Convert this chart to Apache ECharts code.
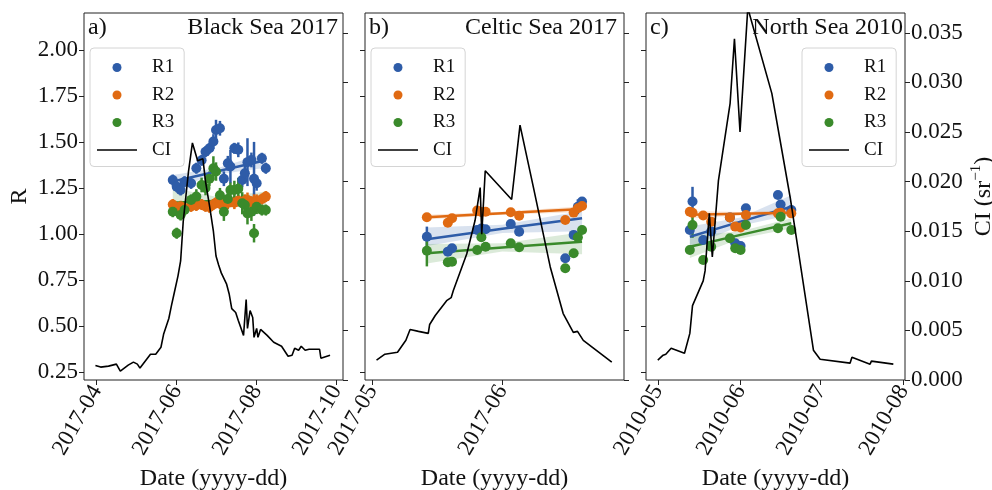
<!DOCTYPE html>
<html>
<head>
<meta charset="utf-8">
<script src="https://cdn.jsdelivr.net/npm/echarts@6/dist/echarts.min.js"></script>
<style>
html, body { margin: 0; padding: 0; background: #fff; }
#chart { width: 992px; height: 490px; }
</style>
</head>
<body>
<div id="chart"></div>
<script>
// ---------------- data ----------------
const seriesNames = ['R1', 'R2', 'R3'];
const panelTags = ['a)', 'b)', 'c)'];
const panelTitles = ['Black Sea 2017', 'Celtic Sea 2017', 'North Sea 2010'];

const rTicks = [0.25, 0.50, 0.75, 1.00, 1.25, 1.50, 1.75, 2.00];
const ciTicks = [0.000, 0.005, 0.010, 0.015, 0.020, 0.025, 0.030, 0.035];
const aMonthTicks = ['2017-04-01', '2017-06-01', '2017-08-01', '2017-10-01'];
const bMonthTicks = ['2017-05-01', '2017-06-01'];
const cMonthTicks = ['2010-05-01', '2010-06-01', '2010-07-01', '2010-08-01'];

// Black Sea 2017 — sampled ratios
const aDates = ['2017-05-29', '2017-06-01', '2017-06-04', '2017-06-07', '2017-06-12', '2017-06-16',
  '2017-06-20', '2017-06-23', '2017-06-26', '2017-06-29', '2017-07-01', '2017-07-04', '2017-07-07',
  '2017-07-10', '2017-07-12', '2017-07-15', '2017-07-18', '2017-07-21', '2017-07-23', '2017-07-25',
  '2017-07-28', '2017-07-30', '2017-08-01', '2017-08-05', '2017-08-08'];
const aR1 = [1.293, 1.257, 1.239, 1.284, 1.275, 1.357, 1.400, 1.447, 1.466, 1.502, 1.565, 1.574, 1.300,
  1.384, 1.366, 1.465, 1.457, 1.293, 1.330, 1.390, 1.402, 1.300, 1.275, 1.411, 1.357];
const aR1Err = [0.03, 0.03, 0.03, 0.03, 0.03, 0.03, 0.03, 0.03, 0.03, 0.04, 0.055, 0.04, 0.04,
  0.04, 0.09, 0.03, 0.04, 0.04, 0.04, 0.13, 0.04, 0.20, 0.04, 0.03, 0.03];
const aR2 = [1.160, 1.145, 1.150, 1.140, 1.150, 1.155, 1.160, 1.150, 1.145, 1.160, 1.170, 1.165, 1.150,
  1.170, 1.175, 1.170, 1.180, 1.175, 1.180, 1.185, 1.170, 1.175, 1.180, 1.190, 1.203];
const aR2Err = [0.03, 0.03, 0.03, 0.03, 0.03, 0.03, 0.03, 0.03, 0.03, 0.03, 0.03, 0.03, 0.03,
  0.035, 0.03, 0.035, 0.03, 0.035, 0.035, 0.04, 0.035, 0.04, 0.035, 0.03, 0.03];
const aR3 = [1.121, 1.004, 1.103, 1.130, 1.185, 1.203, 1.266, 1.250, 1.300, 1.357, 1.339, 1.210, 1.121,
  1.190, 1.239, 1.239, 1.245, 1.167, 1.157, 1.112, 1.121, 1.004, 1.148, 1.130, 1.130];
const aR3Err = [0.03, 0.03, 0.03, 0.03, 0.03, 0.04, 0.04, 0.04, 0.04, 0.065, 0.05, 0.04, 0.05,
  0.05, 0.04, 0.05, 0.06, 0.06, 0.05, 0.06, 0.05, 0.05, 0.04, 0.03, 0.03];
const aFitDates = ['2017-05-29', '2017-07-03', '2017-08-08'];
const aFitR1 = [1.285, 1.342, 1.400];
const aBandR1Lo = [1.250, 1.325, 1.360];
const aBandR1Hi = [1.320, 1.360, 1.440];
const aFitR2 = [1.150, 1.165, 1.180];
const aBandR2Lo = [1.135, 1.158, 1.165];
const aBandR2Hi = [1.165, 1.172, 1.195];
const aFitR3 = [1.170, 1.180, 1.190];
const aBandR3Lo = [1.100, 1.160, 1.150];
const aBandR3Hi = [1.250, 1.200, 1.230];
const aCIDates = ['2017-03-31', '2017-04-04', '2017-04-10', '2017-04-16', '2017-04-19', '2017-04-25',
  '2017-04-29', '2017-05-02', '2017-05-04', '2017-05-12', '2017-05-16', '2017-05-20', '2017-05-22',
  '2017-05-26', '2017-05-28', '2017-05-30', '2017-06-02', '2017-06-04', '2017-06-06', '2017-06-08',
  '2017-06-10', '2017-06-13', '2017-06-17', '2017-06-21', '2017-06-23', '2017-06-26', '2017-06-29',
  '2017-07-01', '2017-07-03', '2017-07-05', '2017-07-09', '2017-07-11', '2017-07-13', '2017-07-16',
  '2017-07-18', '2017-07-22', '2017-07-24', '2017-07-25', '2017-07-27', '2017-07-29', '2017-07-30',
  '2017-08-01', '2017-08-02', '2017-08-04', '2017-08-09', '2017-08-14', '2017-08-20', '2017-08-25',
  '2017-08-28', '2017-08-30', '2017-09-02', '2017-09-04', '2017-09-07', '2017-09-10', '2017-09-16',
  '2017-09-18', '2017-09-19', '2017-09-26'];
const aCI = [0.00146, 0.0013, 0.0014, 0.0016, 0.0009, 0.0015, 0.0018, 0.0016, 0.0012, 0.0026, 0.0026,
  0.0033, 0.0046, 0.0062, 0.0075, 0.0087, 0.0105, 0.0120, 0.0160, 0.0185, 0.0210, 0.0239, 0.0221,
  0.0223, 0.0200, 0.0176, 0.0150, 0.0125, 0.0116, 0.0108, 0.0097, 0.0087, 0.0072, 0.0068, 0.0060,
  0.0045, 0.0081, 0.0052, 0.0070, 0.0063, 0.0043, 0.0052, 0.0043, 0.0051, 0.0045, 0.0038, 0.0034,
  0.0024, 0.0025, 0.0032, 0.0030, 0.0034, 0.0030, 0.0031, 0.0031, 0.0031, 0.0022, 0.0025];

// Celtic Sea 2017
const bDates = ['2017-05-14', '2017-05-19', '2017-05-20', '2017-05-26', '2017-05-27', '2017-05-28',
  '2017-06-03', '2017-06-05', '2017-06-16', '2017-06-18', '2017-06-19', '2017-06-20'];
const bR1 = [0.985, 0.904, 0.922, 1.022, 1.030, 1.026, 1.054, 1.012, 0.868, 0.995, 1.148, 1.176];
const bR1Err = [0.055, 0.02, 0.02, 0.02, 0.02, 0.02, 0.02, 0.02, 0.02, 0.02, 0.04, 0.02];
const bR2 = [1.091, 1.061, 1.085, 1.127, 1.120, 1.121, 1.118, 1.099, 1.076, 1.116, 1.140, 1.152];
const bR2Err = [0.02, 0.02, 0.02, 0.02, 0.02, 0.02, 0.02, 0.02, 0.02, 0.02, 0.02, 0.02];
const bR3 = [0.909, 0.846, 0.849, 0.913, 0.982, 0.931, 0.949, 0.928, 0.814, 0.895, 0.982, 1.022];
const bR3Err = [0.085, 0.02, 0.02, 0.02, 0.02, 0.02, 0.02, 0.02, 0.02, 0.02, 0.02, 0.02];
const bFitDates = ['2017-05-14', '2017-06-01', '2017-06-20'];
const bFitR1 = [0.971, 1.028, 1.085];
const bBandR1Lo = [0.935, 1.005, 1.015];
const bBandR1Hi = [1.035, 1.050, 1.125];
const bFitR2 = [1.091, 1.113, 1.135];
const bBandR2Lo = [1.078, 1.105, 1.120];
const bBandR2Hi = [1.104, 1.121, 1.150];
const bFitR3 = [0.895, 0.927, 0.958];
const bBandR3Lo = [0.840, 0.905, 0.890];
const bBandR3Hi = [0.945, 0.950, 1.010];
const bCIDates = ['2017-05-02', '2017-05-04', '2017-05-07', '2017-05-09', '2017-05-10', '2017-05-12',
  '2017-05-14 08', '2017-05-14 16', '2017-05-16', '2017-05-18 17', '2017-05-19 19', '2017-05-20 07',
  '2017-05-23 12', '2017-05-25 12', '2017-05-26 17', '2017-05-27 02', '2017-05-27 22', '2017-06-03 05',
  '2017-06-05 05', '2017-06-08 10', '2017-06-12 10', '2017-06-15 12', '2017-06-17 22', '2017-06-18 22',
  '2017-06-20 07', '2017-06-27 02'];
const bCI = [0.0020, 0.0026, 0.0028, 0.0040, 0.0051, 0.0049, 0.0047, 0.0056, 0.0065, 0.0080, 0.0083,
  0.0090, 0.0127, 0.0161, 0.0194, 0.0147, 0.0211, 0.0182, 0.0257, 0.0194, 0.0114, 0.0067, 0.0048,
  0.0049, 0.0040, 0.0018];

// North Sea 2010
const cDates = ['2010-05-13', '2010-05-14', '2010-05-18', '2010-05-21', '2010-05-28', '2010-05-30',
  '2010-06-01', '2010-06-03', '2010-06-15', '2010-06-16', '2010-06-20'];
const cR1 = [1.022, 1.176, 0.967, 1.013, 1.090, 0.950, 0.935, 1.140, 1.212, 1.160, 1.130];
const cR1Err = [0.02, 0.08, 0.02, 0.02, 0.02, 0.02, 0.02, 0.02, 0.02, 0.02, 0.02];
const cR2 = [1.121, 1.115, 1.100, 1.067, 1.090, 1.040, 1.035, 1.103, 1.112, 1.115, 1.112];
const cR2Err = [0.02, 0.02, 0.02, 0.02, 0.02, 0.02, 0.02, 0.02, 0.02, 0.02, 0.02];
const cR3 = [0.913, 1.049, 0.859, 0.931, 0.977, 0.922, 0.913, 1.049, 1.031, 1.094, 1.022];
const cR3Err = [0.02, 0.07, 0.02, 0.02, 0.02, 0.02, 0.02, 0.02, 0.02, 0.02, 0.02];
const cFitDates = ['2010-05-13', '2010-06-01', '2010-06-20'];
const cFitR1 = [0.985, 1.067, 1.148];
const cBandR1Lo = [0.930, 1.045, 1.105];
const cBandR1Hi = [1.040, 1.090, 1.210];
const cFitR2 = [1.105, 1.110, 1.115];
const cBandR2Lo = [1.085, 1.100, 1.100];
const cBandR2Hi = [1.125, 1.120, 1.130];
const cFitR3 = [0.931, 0.995, 1.058];
const cBandR3Lo = [0.870, 0.975, 1.030];
const cBandR3Hi = [0.990, 1.015, 1.085];
const cCIDates = ['2010-05-01', '2010-05-03', '2010-05-04', '2010-05-06', '2010-05-11', '2010-05-13',
  '2010-05-14', '2010-05-18', '2010-05-18 17', '2010-05-20 07', '2010-05-21 10', '2010-05-23 17',
  '2010-05-28 02', '2010-05-29 17', '2010-05-31 19', '2010-06-03 17', '2010-06-12 17', '2010-06-19 14',
  '2010-06-28 07', '2010-06-30 19', '2010-07-12', '2010-07-12 17', '2010-07-19 12', '2010-07-20',
  '2010-07-28 05'];
const cCI = [0.0020, 0.0025, 0.0026, 0.0032, 0.0027, 0.0047, 0.0075, 0.0100, 0.0110, 0.0168, 0.0124,
  0.0201, 0.0279, 0.0344, 0.0250, 0.0375, 0.0289, 0.0184, 0.0030, 0.0021, 0.0017, 0.0023, 0.0016,
  0.0019, 0.0016];

// ---------------- helpers ----------------
// dates become UTC milliseconds on a numeric axis
function ts(s) {
  const m = s.match(/^(\d+)-(\d+)-(\d+)(?: (\d+))?$/);
  return Date.UTC(+m[1], +m[2] - 1, +m[3], m[4] ? +m[4] : 0);
}
const pad2 = n => (n < 10 ? '0' : '') + n;
const monthLabel = v => { const d = new Date(v); return d.getUTCFullYear() + '-' + pad2(d.getUTCMonth() + 1); };

const FONT = 'Liberation Serif';
const COLORS = ['#2e5ca8', '#e06a12', '#3a8a2b'];
const BAND_COLORS = ['rgba(46,92,168,0.18)', 'rgba(224,106,18,0.18)', 'rgba(58,138,43,0.18)'];
const AXIS_COLOR = '#222';
// thin horizontal bar used as the legend key of the CI line
const LINE_KEY = 'path://M0,0H50V2H0Z';

const panels = [
  { dates: aDates, vals: [aR1, aR2, aR3], errs: [aR1Err, aR2Err, aR3Err],
    fitDates: aFitDates, fits: [aFitR1, aFitR2, aFitR3],
    bandLo: [aBandR1Lo, aBandR2Lo, aBandR3Lo], bandHi: [aBandR1Hi, aBandR2Hi, aBandR3Hi],
    ciDates: aCIDates, ci: aCI, ticks: aMonthTicks, range: ['2017-03-22 07', '2017-10-05 21'] },
  { dates: bDates, vals: [bR1, bR2, bR3], errs: [bR1Err, bR2Err, bR3Err],
    fitDates: bFitDates, fits: [bFitR1, bFitR2, bFitR3],
    bandLo: [bBandR1Lo, bBandR2Lo, bBandR3Lo], bandHi: [bBandR1Hi, bBandR2Hi, bBandR3Hi],
    ciDates: bCIDates, ci: bCI, ticks: bMonthTicks, range: ['2017-04-29 06', '2017-06-30 00'] },
  { dates: cDates, vals: [cR1, cR2, cR3], errs: [cR1Err, cR2Err, cR3Err],
    fitDates: cFitDates, fits: [cFitR1, cFitR2, cFitR3],
    bandLo: [cBandR1Lo, cBandR2Lo, cBandR3Lo], bandHi: [cBandR1Hi, cBandR2Hi, cBandR3Hi],
    ciDates: cCIDates, ci: cCI, ticks: cMonthTicks, range: ['2010-04-26 14', '2010-08-01 14'] }
];

const gridLefts = [84, 365, 646];
const legendLefts = [90, 371, 802];
const GRID_TOP = 13, GRID_W = 259, GRID_H = 367;

const grid = [], xAxis = [], yAxis = [], series = [], title = [], legend = [];

panels.forEach((p, k) => {
  grid.push({ left: gridLefts[k], top: GRID_TOP, width: GRID_W, height: GRID_H,
    show: true, borderColor: AXIS_COLOR, borderWidth: 1, backgroundColor: 'transparent',
    outerBoundsMode: 'none' });

  const tickVals = p.ticks.map(ts);
  xAxis.push({ type: 'value', gridIndex: k, min: ts(p.range[0]), max: ts(p.range[1]),
    axisLine: { show: false },
    splitLine: { show: false },
    axisTick: { show: true, length: 5, customValues: tickVals, lineStyle: { color: AXIS_COLOR } },
    axisLabel: { customValues: tickVals, formatter: monthLabel, rotate: 60, margin: 7,
      fontFamily: FONT, fontSize: 23, color: '#111' },
    name: 'Date (yyyy-dd)', nameLocation: 'middle', nameGap: 84,
    nameTextStyle: { fontFamily: FONT, fontSize: 24, color: '#111' } });

  // R axis (left) and CI axis (right)
  yAxis.push({ type: 'value', gridIndex: k, position: 'left', min: 0.207, max: 2.2,
    axisLine: { show: false }, splitLine: { show: false },
    axisTick: { show: true, length: 5, customValues: rTicks, lineStyle: { color: AXIS_COLOR } },
    axisLabel: { show: k === 0, customValues: rTicks, formatter: v => v.toFixed(2), margin: 6,
      fontFamily: FONT, fontSize: 23, color: '#111' },
    name: k === 0 ? 'R' : '', nameLocation: 'middle', nameGap: 52, nameRotate: 90,
    nameTextStyle: { fontFamily: FONT, fontSize: 24, color: '#111' } });
  yAxis.push({ type: 'value', gridIndex: k, position: 'right', min: 0, max: 0.037,
    axisLine: { show: false }, splitLine: { show: false },
    axisTick: { show: true, length: 5, customValues: ciTicks, lineStyle: { color: AXIS_COLOR } },
    axisLabel: { show: k === 2, customValues: ciTicks, formatter: v => v.toFixed(3), margin: 6,
      fontFamily: FONT, fontSize: 23, color: '#111' },
    name: k === 2 ? '{a|CI (sr}{b|\u22121}{a|)}' : '', nameLocation: 'middle', nameGap: 64, nameRotate: 90,
    nameTextStyle: { fontFamily: FONT, color: '#111',
      rich: { a: { fontFamily: FONT, fontSize: 24, lineHeight: 30, color: '#111' },
              b: { fontFamily: FONT, fontSize: 15, lineHeight: 15, verticalAlign: 'top', color: '#111' } } } });

  const rAxis = 2 * k, ciAxis = 2 * k + 1;

  seriesNames.forEach((nm, j) => {
    // confidence band of the linear fit
    const bandPts = p.fitDates.map((d, i) => [ts(d), p.bandLo[j][i], p.bandHi[j][i]]);
    series.push({ type: 'custom', name: nm + ' band ' + k, xAxisIndex: k, yAxisIndex: rAxis, z: 1,
      silent: true, data: bandPts, encode: { x: 0, y: [1, 2] },
      renderItem: (params, api) => {
        if (params.dataIndex !== 0) return null;
        const upper = bandPts.map(b => api.coord([b[0], b[2]]));
        const lower = bandPts.slice().reverse().map(b => api.coord([b[0], b[1]]));
        return { type: 'polygon', shape: { points: upper.concat(lower) },
          style: { fill: BAND_COLORS[j] } };
      } });
    // error bars
    series.push({ type: 'custom', name: nm + ' err ' + k, xAxisIndex: k, yAxisIndex: rAxis, z: 3,
      silent: true,
      data: p.dates.map((d, i) => [ts(d), p.vals[j][i] - p.errs[j][i], p.vals[j][i] + p.errs[j][i]]),
      encode: { x: 0, y: [1, 2] },
      renderItem: (params, api) => {
        const a = api.coord([api.value(0), api.value(1)]);
        const b = api.coord([api.value(0), api.value(2)]);
        return { type: 'line', shape: { x1: a[0], y1: a[1], x2: b[0], y2: b[1] },
          style: { stroke: COLORS[j], lineWidth: 2.5 } };
      } });
    // points
    series.push({ type: 'scatter', name: nm, xAxisIndex: k, yAxisIndex: rAxis, z: 3,
      symbol: 'circle', symbolSize: 10, itemStyle: { color: COLORS[j], opacity: 1 },
      data: p.dates.map((d, i) => [ts(d), p.vals[j][i]]) });
    // linear fit
    series.push({ type: 'line', name: nm + ' fit ' + k, xAxisIndex: k, yAxisIndex: rAxis, z: 3,
      symbol: 'none', silent: true, lineStyle: { color: COLORS[j], width: 2.5 },
      data: p.fitDates.map((d, i) => [ts(d), p.fits[j][i]]) });
  });

  series.push({ type: 'line', name: 'CI', xAxisIndex: k, yAxisIndex: ciAxis, z: 5,
    symbol: 'none', lineStyle: { color: '#000', width: 1.6 }, itemStyle: { color: '#000' },
    data: p.ciDates.map((d, i) => [ts(d), p.ci[i]]) });

  legend.push({ data: ['R1', 'R2', 'R3', { name: 'CI', icon: LINE_KEY, itemStyle: { color: '#000' } }],
    orient: 'vertical', left: legendLefts[k], top: 48, itemWidth: 40, itemHeight: 9, itemGap: 8.5,
    padding: [10, 10, 7, 7], selectedMode: false,
    backgroundColor: 'rgba(255,255,255,0.85)', borderColor: '#d4d4d4', borderWidth: 1, borderRadius: 4,
    textStyle: { fontFamily: FONT, fontSize: 19, color: '#111', padding: [0, 0, 0, 10] } });
});

const titleStyle = { fontFamily: FONT, fontSize: 24, fontWeight: 'normal', color: '#111' };
const titleRights = [992 - 338, 992 - 617, 992 - 903];
panels.forEach((p, k) => {
  title.push({ text: panelTags[k], left: gridLefts[k] + 4, top: 16, padding: 0, textStyle: titleStyle });
  title.push({ text: panelTitles[k], right: titleRights[k], top: 16, padding: 0, textStyle: titleStyle });
});

const chart = echarts.init(document.getElementById('chart'), null, { renderer: 'canvas' });
chart.setOption({
  animation: false,
  backgroundColor: '#fff',
  title, legend, grid, xAxis, yAxis, series
});
</script>
</body>
</html>
